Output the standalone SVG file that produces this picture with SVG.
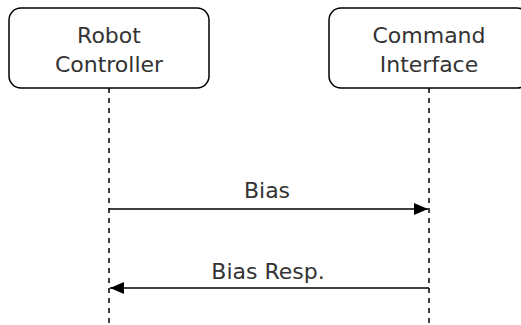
<svg xmlns="http://www.w3.org/2000/svg" width="521" height="325" viewBox="0 0 521 325">
<style>
.box{fill:#fff;stroke:#000;stroke-width:1.5}
.life{stroke:#000;stroke-width:1.5;stroke-dasharray:5 5;fill:none}
.msg{stroke:#000;stroke-width:1.5;fill:none}
text{font-family:"DejaVu Sans","Noto Sans",sans-serif;font-size:22px;fill:#333;text-anchor:middle}
</style>
<defs>
<marker id="ah" viewBox="0 0 14 12" refX="14" refY="6" markerWidth="14" markerHeight="12" markerUnits="userSpaceOnUse" orient="auto">
<path d="M0,0 L14,6 L0,12 Z" fill="#000"/>
</marker>
</defs>
<g id="connectors">
<line class="life" x1="109" y1="88" x2="109" y2="325"/>
<line class="life" x1="429" y1="88" x2="429" y2="325"/>
<line class="msg" x1="109" y1="209" x2="428" y2="209" marker-end="url(#ah)"/>
<text x="267" y="198">Bias</text>
<line class="msg" x1="429" y1="288" x2="110" y2="288" marker-end="url(#ah)"/>
<text x="268" y="279">Bias Resp.</text>
</g>
<g id="robot-controller">
<rect class="box" x="9" y="8" width="200" height="80" rx="12"/>
<text x="109" y="43">Robot</text>
<text x="109" y="72">Controller</text>
</g>
<g id="command-interface">
<rect class="box" x="329" y="8" width="200" height="80" rx="12"/>
<text x="429" y="43">Command</text>
<text x="429" y="72">Interface</text>
</g>
</svg>
